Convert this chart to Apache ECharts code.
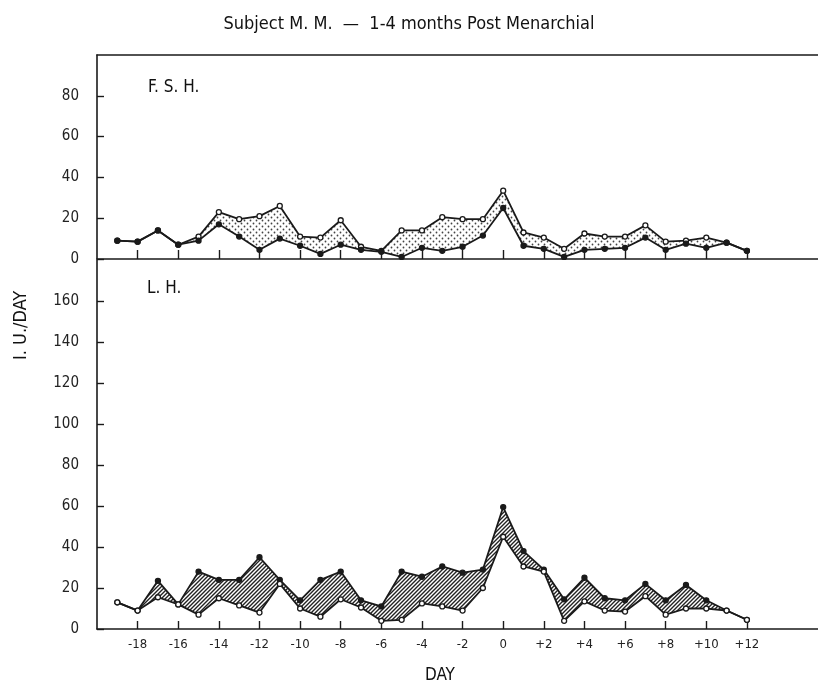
<!DOCTYPE html>
<html>
<head>
<meta charset="utf-8">
<script src="https://cdn.jsdelivr.net/npm/echarts@6/dist/echarts.min.js"></script>
<style>
html,body{margin:0;padding:0;background:#fff;}
#c{width:818px;height:687px;}
</style>
</head>
<body>
<div id="c"></div>
<script>
// ---- data ----
const days = [-19,-18,-17,-16,-15,-14,-13,-12,-11,-10,-9,-8,-7,-6,-5,-4,-3,-2,-1,0,1,2,3,4,5,6,7,8,9,10,11,12];
const fshUpper = [9,8.5,14,7,11,23,19.5,21,26,11,10.5,19,6,4,14,14,20.5,19.5,19.5,33.5,13,10.5,5,12.5,11,11,16.5,8.5,9,10.5,8,4];
const fshLower = [9,8.5,14,7,9,17,11,4.5,10,6.5,2.5,7,4.5,3.5,1,5.5,4,6,11.5,25,6.5,5,1,4.5,5,5.5,10.5,4.5,7.5,5.5,8,4];
const lhUpper  = [13,9,23.5,12,28,24,24,35,24,14,24,28,14,11,28,25.5,30.5,27.5,29,59.5,38,29,14.5,25,15,14,22,14,21.5,14,9,4.5];
const lhLower  = [13,9,15.5,12,7,15,11.5,8,22,10,6,14.5,10.5,4,4.5,12.5,11,9,20,45,30.5,28,4,13.5,9,8.5,16,7,10,10,9,4.5];
const xTickDays = [-18,-16,-14,-12,-10,-8,-6,-4,-2,0,2,4,6,8,10,12];
const fshYTicks = [0,20,40,60,80];
const lhYTicks = [0,20,40,60,80,100,120,140,160];

const FONT = "'Liberation Sans Narrow','DejaVu Sans Condensed','Roboto Condensed','Liberation Sans',sans-serif";
const INK = '#1a1a1a';

function dotPattern(){
  const c = document.createElement('canvas'); c.width = 6; c.height = 6;
  const g = c.getContext('2d');
  g.fillStyle = '#fff'; g.fillRect(0,0,6,6);
  g.fillStyle = '#444';
  g.beginPath(); g.arc(1.5,1.5,0.9,0,Math.PI*2); g.fill();
  g.beginPath(); g.arc(4.5,4.5,0.9,0,Math.PI*2); g.fill();
  return c;
}
function hatchPattern(){
  const s = 4;
  const c = document.createElement('canvas'); c.width = s; c.height = s;
  const g = c.getContext('2d');
  g.fillStyle = '#fff'; g.fillRect(0,0,s,s);
  g.strokeStyle = '#222'; g.lineWidth = 1.4;
  g.beginPath();
  g.moveTo(-1,s+1); g.lineTo(s+1,-1);
  g.moveTo(-1,1); g.lineTo(1,-1);
  g.moveTo(s-1,s+1); g.lineTo(s+1,s-1);
  g.stroke();
  return c;
}

const pair = (ys) => days.map((d,i)=>[d, ys[i]]);

const chart = echarts.init(document.getElementById('c'), null, {renderer:'canvas'});

const axisLine = {show:true, onZero:false, lineStyle:{color:INK, width:1.6}};
const xCommon = {
  type:'value', min:-20, max:15.5,
  splitLine:{show:false},
  axisLine: axisLine,
};
function yAxisFor(gi, max, ticks){
  return {
    type:'value', gridIndex:gi, min:0, max:max, interval:20, position:'left',
    splitLine:{show:false},
    axisLine: axisLine,
    axisTick:{show:true, inside:true, length:7, customValues:ticks, lineStyle:{color:INK, width:1.4}},
    axisLabel:{show:true, customValues:ticks, margin:18, fontFamily:FONT, fontSize:15, color:'#222'}
  };
}
function lineSeries(gi, ys, filled){
  return {
    type:'line', xAxisIndex: gi===0?0:2, yAxisIndex:gi, data:pair(ys),
    symbol:'circle', symbolSize:5, showSymbol:true,
    lineStyle:{color:INK, width:1.8},
    itemStyle:{color: filled? INK : '#fff', borderColor:INK, borderWidth:1.3},
    z:5, animation:false
  };
}
function bandSeries(gi, up, lo, pattern){
  return {
    type:'custom', xAxisIndex: gi===0?0:2, yAxisIndex:gi,
    data: days.map((d,i)=>[d, up[i], lo[i]]),
    encode:{x:0, y:[1,2]},
    renderItem: function(params, api){
      if (params.dataIndex !== 0) return null;
      const pts = [];
      for (let i=0;i<days.length;i++) pts.push(api.coord([days[i], up[i]]));
      for (let i=days.length-1;i>=0;i--) pts.push(api.coord([days[i], lo[i]]));
      return {type:'polygon', shape:{points:pts},
        style:{fill:{image:pattern, repeat:'repeat'}, stroke:null}};
    },
    z:2, animation:false, silent:true
  };
}

const option = {
  backgroundColor:'#fff',
  animation:false,
  grid:[
    {left:97, top:55, right:0, height:204},
    {left:97, top:260, right:0, height:369}
  ],
  xAxis:[
    Object.assign({}, xCommon, {gridIndex:0, position:'bottom',
      axisTick:{show:true, inside:true, length:9, customValues:xTickDays, lineStyle:{color:INK, width:1.4}},
      axisLabel:{show:false}}),
    Object.assign({}, xCommon, {gridIndex:0, position:'top',
      axisTick:{show:false}, axisLabel:{show:false}}),
    Object.assign({}, xCommon, {gridIndex:1, position:'bottom',
      axisTick:{show:true, inside:true, length:8, customValues:xTickDays, lineStyle:{color:INK, width:1.4}},
      axisLabel:{show:true, customValues:xTickDays, margin:9, fontFamily:FONT, fontSize:13, color:'#222',
        formatter:(v)=> v>0 ? '+'+v : String(v)}})
  ],
  yAxis:[ yAxisFor(0,100,fshYTicks), yAxisFor(1,180,lhYTicks) ],
  graphic:[
    {type:'text', left:'center', top:15, style:{text:'Subject M. M.  —  1-4 months Post Menarchial', font:'18px '+FONT, fill:'#111'}},
    {type:'text', left:148, top:79, style:{text:'F. S. H.', font:'17px '+FONT, fill:'#111'}},
    {type:'text', left:147, top:280, style:{text:'L. H.', font:'17px '+FONT, fill:'#111'}},
    {type:'text', left:425, top:667, style:{text:'DAY', font:'17px '+FONT, fill:'#111'}},
    {type:'text', x:12, y:360, rotation:Math.PI/2, style:{text:'I. U./DAY', font:'18px '+FONT, fill:'#111'}}
  ],
  series:[
    bandSeries(0, fshUpper, fshLower, dotPattern()),
    bandSeries(1, lhUpper, lhLower, hatchPattern()),
    lineSeries(0, fshUpper, false),
    lineSeries(0, fshLower, true),
    lineSeries(1, lhUpper, true),
    lineSeries(1, lhLower, false)
  ]
};
chart.setOption(option);
</script>
</body>
</html>
